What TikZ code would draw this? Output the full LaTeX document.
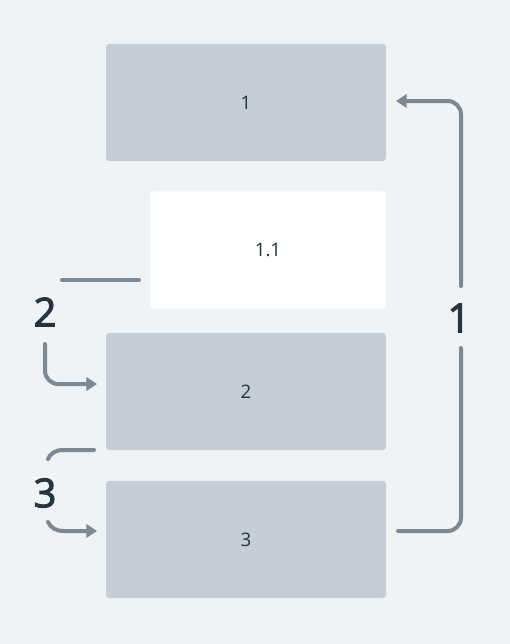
\documentclass[tikz,border=0pt]{standalone}
\usepackage{fontspec}
\setmainfont{Open Sans}
\newfontfamily\labfont[FakeBold=2.5]{Open Sans}
\usetikzlibrary{arrows.meta}
\definecolor{bg}{HTML}{EFF3F6}
\definecolor{boxgray}{HTML}{C5CED6}
\definecolor{linec}{HTML}{7D8895}
\definecolor{labc}{HTML}{263340}
\tikzset{
  box/.style={draw=none, rounded corners=2.5pt, minimum width=210pt, minimum height=88pt, inner sep=0pt, font=\fontsize{14}{16}\selectfont, text=labc},
  graybox/.style={box, fill=boxgray},
  whitebox/.style={box, fill=white, minimum width=177pt},
  conn/.style={draw=linec, line width=3pt, line cap=round, rounded corners=10pt},
  arr/.style={conn, -{Triangle[length=8pt, width=10pt]}},
  biglab/.style={font=\labfont\fontsize{30}{34}\selectfont, text=labc, inner sep=0pt}
}
\begin{document}
\begin{tikzpicture}[x=0.75pt, y=-0.75pt]
\fill[bg] (0,0) rectangle (510,644);
\useasboundingbox (0,0) rectangle (510,644);
\node[graybox] (b1) at (246,102.5) {1};
\node[whitebox] (b11) at (268,250) {1.1};
\node[graybox] (b2) at (246,391.5) {2};
\node[graybox] (b3) at (246,539.5) {3};
\node[biglab] (l2) at (45,312) {2};
\node[biglab] (l3) at (45,493) {3};
\node[biglab] (l1) at (459,318) {1};
% connector 1 (right side)
\coordinate (r1) at (398,531);
\coordinate (r2) at (461,531);
\coordinate (r3) at (461,348);
\coordinate (r4) at (461,286);
\coordinate (r5) at (461,101);
\coordinate (r6) at (396,101);
\draw[conn] (r1) -- (r2) -- (r3);
\draw[arr] (r4) -- (r5) -- (r6);
% connector 2
\coordinate (a1) at (139,280);
\coordinate (a2) at (62,280);
\draw[conn] (a1) -- (a2);
\coordinate (c1) at (45,344);
\coordinate (c2) at (45,384);
\coordinate (c3) at (97,384);
\draw[arr] (c1) -- (c2) -- (c3);
% connector 3
\coordinate (d1) at (94,450);
\coordinate (d3) at (48,459);
\draw[conn, sharp corners] (d1) -- (63,450) .. controls (55,450) and (50,454) .. (d3);
\coordinate (e1) at (48,522);
\coordinate (e3) at (97,531);
\draw[arr, sharp corners] (e1) .. controls (51,528) and (56,531) .. (64,531) -- (e3);
\end{tikzpicture}
\end{document}
